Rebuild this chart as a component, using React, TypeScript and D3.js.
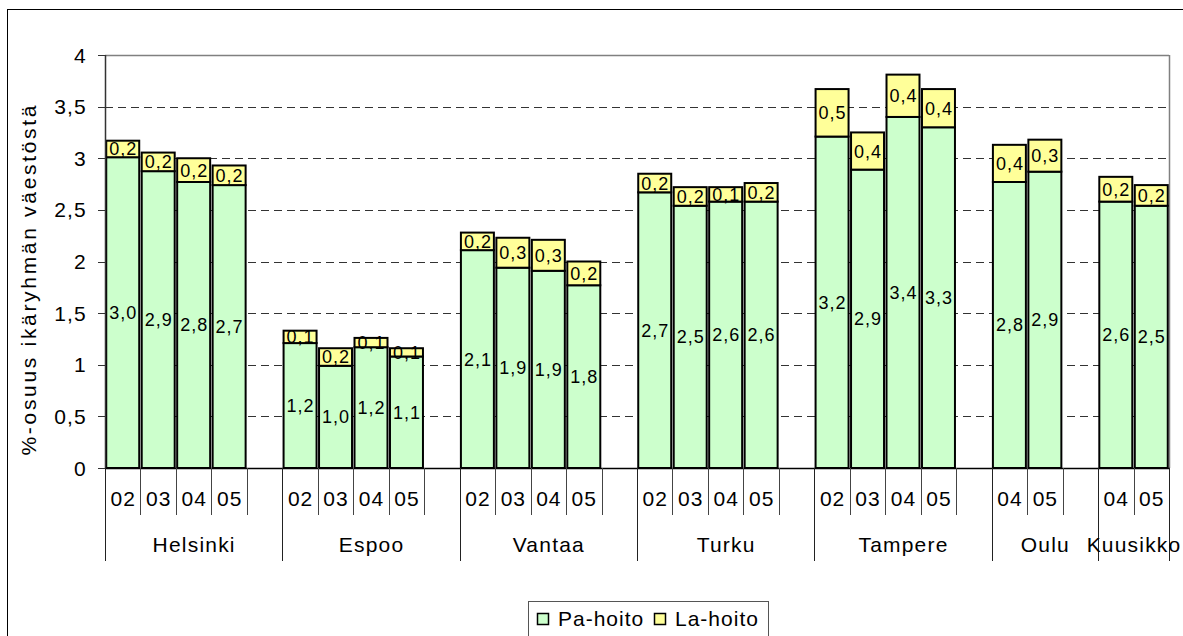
import React from "react";
import * as d3 from "d3";

const cities = ["Helsinki", "Espoo", "Vantaa", "Turku", "Tampere", "Oulu", "Kuusikko"];
const cityYears = [
  ["02", "03", "04", "05"],
  ["02", "03", "04", "05"],
  ["02", "03", "04", "05"],
  ["02", "03", "04", "05"],
  ["02", "03", "04", "05"],
  ["04", "05"],
  ["04", "05"],
];
const paHoito = [
  [3.01, 2.875, 2.77, 2.74],
  [1.21, 0.99, 1.17, 1.08],
  [2.11, 1.94, 1.91, 1.77],
  [2.67, 2.54, 2.58, 2.58],
  [3.21, 2.89, 3.4, 3.3],
  [2.77, 2.87],
  [2.58, 2.54],
];
const laHoito = [
  [0.16, 0.18, 0.23, 0.19],
  [0.12, 0.17, 0.09, 0.08],
  [0.17, 0.29, 0.3, 0.23],
  [0.18, 0.18, 0.14, 0.18],
  [0.46, 0.36, 0.41, 0.37],
  [0.36, 0.31],
  [0.24, 0.2],
];
const yTicks = [0, 0.5, 1, 1.5, 2, 2.5, 3, 3.5, 4];
const seriesNames = ["Pa-hoito", "La-hoito"];
const seriesColors = ["#CCFFCC", "#FFFF99"];
const yTitle = "%-osuus ikäryhmän väestöstä";

const W = 1183;
const H = 636;
const plot = { left: 105, right: 1169, top: 55, bottom: 468 };
const FONT = "'Liberation Sans', Arial, sans-serif";

type Slot = { key: string; cityIdx: number; year: string | null; pa: number; la: number };

const slots: Slot[] = [];
cities.forEach((c, ci) => {
  cityYears[ci].forEach((yr, yi) => {
    slots.push({ key: `${c}-${yr}`, cityIdx: ci, year: yr, pa: paHoito[ci][yi], la: laHoito[ci][yi] });
  });
  if (ci < cities.length - 1) slots.push({ key: `${c}-blank`, cityIdx: ci, year: null, pa: 0, la: 0 });
});

const fmt = (v: number) => d3.format(".1f")(v).replace(".", ",");

export default function App() {
  const x = d3
    .scaleBand<string>()
    .domain(slots.map((s) => s.key))
    .range([plot.left, plot.right])
    .paddingInner(0.07)
    .paddingOuter(0.035);
  const y = d3.scaleLinear().domain([0, 4]).range([plot.bottom, plot.top]);
  const step = x.step();
  const slotStart = (k: string) => (x(k) as number) - (step * x.paddingInner()) / 2;

  // group boundaries
  const groupBounds: { start: number; end: number; name: string }[] = [];
  cities.forEach((c, ci) => {
    const own = slots.filter((s) => s.cityIdx === ci);
    const start = slotStart(own[0].key);
    const end = slotStart(own[own.length - 1].key) + step;
    groupBounds.push({ start, end, name: c });
  });
  const slotEdges = slots.map((s) => slotStart(s.key)).concat([plot.right]);
  const groupEdges = groupBounds.map((g) => g.start).concat([plot.right]);

  const bw = x.bandwidth();

  return (
    <svg
      width={W}
      height={H}
      style={{ position: "absolute", left: 0, top: 0, background: "#fff" }}
      fontFamily={FONT}
    >
      <rect x={0} y={0} width={W} height={H} fill="#fff" />
      {/* outer chart border */}
      <rect x={7.5} y={9.5} width={W + 20} height={H + 20} fill="none" stroke="#000" strokeWidth={1} />

      {/* gridlines */}
      {yTicks
        .filter((t) => t > 0 && t < 4)
        .map((t) => (
          <line
            key={`g${t}`}
            x1={plot.left}
            x2={plot.right}
            y1={Math.round(y(t)) + 0.5}
            y2={Math.round(y(t)) + 0.5}
            stroke="#333"
            strokeWidth={1}
            strokeDasharray="8,5"
          />
        ))}
      {/* plot border top/right */}
      <line x1={plot.left} x2={plot.right} y1={plot.top + 0.5} y2={plot.top + 0.5} stroke="#808080" strokeWidth={1.5} />
      <line x1={plot.right + 0.5} x2={plot.right + 0.5} y1={plot.top} y2={plot.bottom} stroke="#808080" strokeWidth={1.5} />

      {/* bars */}
      {slots
        .filter((s) => s.year !== null)
        .map((s) => {
          const bx = x(s.key) as number;
          const y0 = y(0);
          const y1 = y(s.pa);
          const y2 = y(s.pa + s.la);
          return (
            <g key={s.key}>
              <rect x={bx} y={y1} width={bw} height={y0 - y1} fill={seriesColors[0]} stroke="#000" strokeWidth={2} />
              <rect x={bx} y={y2} width={bw} height={y1 - y2} fill={seriesColors[1]} stroke="#000" strokeWidth={2} />
            </g>
          );
        })}
      {/* data labels */}
      {slots
        .filter((s) => s.year !== null)
        .map((s) => {
          const cx = (x(s.key) as number) + bw / 2;
          return (
            <g key={`l${s.key}`} fontSize={18} letterSpacing={1} textAnchor="middle" fill="#000">
              <text x={cx + 0.5} y={(y(0) + y(s.pa)) / 2} dy="0.36em">
                {fmt(s.pa)}
              </text>
              <text x={cx + 0.5} y={(y(s.pa) + y(s.pa + s.la)) / 2} dy="0.36em">
                {fmt(s.la)}
              </text>
            </g>
          );
        })}

      {/* y axis */}
      <line x1={plot.left + 0.5} x2={plot.left + 0.5} y1={plot.top} y2={plot.bottom} stroke="#333" strokeWidth={1.5} />
      {yTicks.map((t) => (
        <g key={`yt${t}`}>
          <line x1={98} x2={plot.left} y1={Math.round(y(t)) + 0.5} y2={Math.round(y(t)) + 0.5} stroke="#333" strokeWidth={1} />
          <text x={87} y={y(t)} dy="0.36em" textAnchor="end" fontSize={21} letterSpacing={1.2} fill="#000">
            {String(t).replace(".", ",")}
          </text>
        </g>
      ))}
      <text
        transform={`translate(28,${(plot.top + plot.bottom) / 2 + 19}) rotate(-90)`}
        textAnchor="middle"
        dominantBaseline="central"
        fontSize={21}
        textLength={350}
        lengthAdjust="spacing"
        fill="#000"
      >
        {yTitle}
      </text>

      {/* x axis */}
      <line x1={plot.left} x2={plot.right + 1} y1={plot.bottom + 0.5} y2={plot.bottom + 0.5} stroke="#000" strokeWidth={1.5} />
      {slotEdges.map((ex, i) => (
        <line key={`st${i}`} x1={Math.round(ex) + 0.5} x2={Math.round(ex) + 0.5} y1={plot.bottom} y2={515} stroke="#444" strokeWidth={1} />
      ))}
      {groupEdges.map((ex, i) => (
        <line key={`gt${i}`} x1={Math.round(ex) + 0.5} x2={Math.round(ex) + 0.5} y1={plot.bottom} y2={561} stroke="#222" strokeWidth={1} />
      ))}
      {slots
        .filter((s) => s.year !== null)
        .map((s) => (
          <text
            key={`yl${s.key}`}
            x={(x(s.key) as number) + bw / 2 + 0.5}
            y={506}
            textAnchor="middle"
            fontSize={21}
            letterSpacing={1}
            fill="#000"
          >
            {s.year}
          </text>
        ))}
      {groupBounds.map((g) => (
        <text key={`gl${g.name}`} x={(g.start + g.end) / 2 + 0.5} y={552} textAnchor="middle" fontSize={21} letterSpacing={1.2} fill="#000">
          {g.name}
        </text>
      ))}

      {/* legend */}
      <rect x={528.5} y={601.5} width={240} height={60} fill="#fff" stroke="#555" strokeWidth={1} />
      {seriesNames.map((n, i) => {
        const lx = i === 0 ? 537 : 654;
        return (
          <g key={`lg${n}`}>
            <rect x={lx + 0.5} y={613.5} width={11} height={11} fill={seriesColors[i]} stroke="#000" strokeWidth={1.5} />
            <text x={lx + 21} y={626} fontSize={21} letterSpacing={1} fill="#000">
              {n}
            </text>
          </g>
        );
      })}
    </svg>
  );
}
